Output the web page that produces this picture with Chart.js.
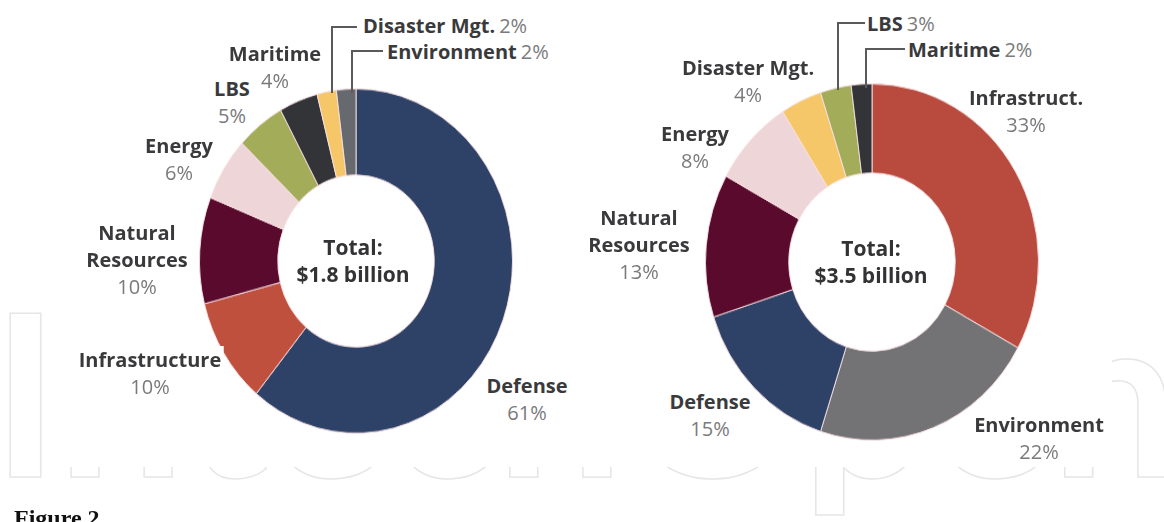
<!DOCTYPE html>
<html lang="en">
<head>
<meta charset="UTF-8">
<title>Figure 2</title>
<script src="https://cdn.jsdelivr.net/npm/chart.js@4.4.1/dist/chart.umd.min.js"></script>
<style>
    html, body { margin: 0; padding: 0; background: #fff; }
    #stage { position: relative; width: 1164px; height: 522px; overflow: hidden; font-family: "Open Sans", sans-serif; }
    #watermark { position: absolute; left: 0; top: 0; }
    /* the pasted chart picture hides most of the watermark */
    #cover { position: absolute; left: 62px; top: 0; width: 1050px; height: 467px; background: #fff; }
    .donut { position: absolute; }
    .lbl { position: absolute; font-size: 20px; line-height: 27px; white-space: nowrap; }
    .lbl b, .lbl span { background: #fff; padding: 0 2px; }
    .lbl b { color: #3a3a3c; font-weight: 700; }
    .lbl span { color: #7a7a7c; font-weight: 400; }
    .center { transform: translateX(-50%); text-align: center; }
    .total { position: absolute; transform: translateX(-50%); text-align: center; font-size: 21px; line-height: 27px; font-weight: 700; color: #333335; white-space: nowrap; }
    #leaders { position: absolute; left: 0; top: 0; }
    #fig { position: absolute; left: 14px; top: 505px; font-family: "Liberation Serif", serif; font-weight: 700; font-size: 24px; color: #111; }
</style>
</head>
<body>
<div id="stage">
    <svg id="watermark" width="1164" height="522">
        <text x="-8" y="477" font-family="Lato" font-weight="700" font-size="226" fill="#fff" stroke="#e6e6e6" stroke-width="1.5">IntechOpen</text>
    </svg>
    <div id="cover"></div>
    <div class="donut" id="leftWrap" style="left:199px; top:104px; width:314px; height:314px; transform:scaleY(1.10);">
        <canvas id="leftChart"></canvas>
    </div>
    <div class="donut" id="rightWrap" style="left:705px; top:95px; width:334px; height:334px; transform:scaleY(1.07);">
        <canvas id="rightChart"></canvas>
    </div>
    <svg id="leaders" width="1164" height="522"></svg>
    <div id="fig">Figure 2</div>
</div>

<script>
    // funding shares, left = $1.8 billion, right = $3.5 billion
    const leftLabels = ['Defense', 'Infrastructure', 'Natural Resources', 'Energy', 'LBS', 'Maritime', 'Disaster Mgt.', 'Environment'];
    const leftValues = [61, 10, 10, 6, 5, 4, 2, 2];
    const leftTotal = '$1.8 billion';

    const rightLabels = ['Infrastruct.', 'Environment', 'Defense', 'Natural Resources', 'Energy', 'Disaster Mgt.', 'LBS', 'Maritime'];
    const rightValues = [33, 22, 15, 13, 8, 4, 3, 2];
    const rightTotal = '$3.5 billion';

    const colors = {
        'Defense': '#2e4267',
        'Infrastructure': '#c0503e',
        'Infrastruct.': '#b84b3e',
        'Natural Resources': '#5a0a2c',
        'Energy': '#eed5d7',
        'LBS': '#a3ad59',
        'Maritime': '#333438',
        'Disaster Mgt.': '#f6c768',
        'Environment': '#66696e'
    };
    const rightColors = Object.assign({}, colors, { 'Environment': '#737375' });

    // label placement: x,y = centre of first line; inline = name and % on one line, left aligned
    const leftPos = {
        'Defense': { x: 527, y: 385 },
        'Infrastructure': { x: 150, y: 359 },
        'Natural Resources': { x: 137, y: 232, split: true },
        'Energy': { x: 179, y: 145 },
        'LBS': { x: 232, y: 88 },
        'Maritime': { x: 275, y: 53 },
        'Disaster Mgt.': { x: 361, y: 25, inline: true },
        'Environment': { x: 385, y: 51, inline: true }
    };
    const rightPos = {
        'Infrastruct.': { x: 1026, y: 97 },
        'Environment': { x: 1039, y: 424 },
        'Defense': { x: 710, y: 401 },
        'Natural Resources': { x: 639, y: 217, split: true },
        'Energy': { x: 695, y: 133 },
        'Disaster Mgt.': { x: 748, y: 67 },
        'LBS': { x: 865, y: 23, inline: true },
        'Maritime': { x: 906, y: 49, inline: true }
    };
    const leftLeaders = [[[357, 27], [332, 27], [332, 93]], [[383, 51], [352, 51], [352, 93]]];
    const rightLeaders = [[[866, 23], [838, 23], [838, 90]], [[905, 49], [866, 49], [866, 88]]];

    const stage = document.getElementById('stage');

    function makeDonut(id, labels, values, palette, cutout) {
        return new Chart(document.getElementById(id), {
            type: 'doughnut',
            data: {
                labels: labels,
                datasets: [{
                    data: values,
                    backgroundColor: labels.map(l => palette[l]),
                    borderColor: 'rgba(250,225,228,0.9)',
                    borderWidth: 1
                }]
            },
            options: {
                responsive: true,
                maintainAspectRatio: false,
                animation: false,
                cutout: cutout,
                layout: { padding: 0 },
                plugins: { legend: { display: false }, tooltip: { enabled: false } }
            }
        });
    }

    function addLabels(labels, values, pos) {
        labels.forEach((name, i) => {
            const p = pos[name];
            const el = document.createElement('div');
            el.className = 'lbl';
            const pct = values[i] + '%';
            if (p.inline) {
                el.innerHTML = `<b>${name}</b><span>${pct}</span>`;
            } else {
                const nm = p.split ? name.split(' ').map(w => `<b>${w}</b>`).join('<br>') : `<b>${name}</b>`;
                el.innerHTML = `${nm}<br><span>${pct}</span>`;
                el.classList.add('center');
            }
            el.style.left = p.x + 'px';
            el.style.top = (p.y - 13.5) + 'px';
            stage.appendChild(el);
        });
    }

    function addTotal(cx, cy, text) {
        const el = document.createElement('div');
        el.className = 'total';
        el.innerHTML = `Total:<br>${text}`;
        el.style.left = cx + 'px';
        el.style.top = (cy - 13.5) + 'px';
        stage.appendChild(el);
    }

    function addLeaders(list) {
        const svg = document.getElementById('leaders');
        list.forEach(pts => {
            const pl = document.createElementNS('http://www.w3.org/2000/svg', 'polyline');
            pl.setAttribute('points', pts.map(p => p.join(',')).join(' '));
            pl.setAttribute('fill', 'none');
            pl.setAttribute('stroke', '#5a5a5c');
            pl.setAttribute('stroke-width', '2');
            svg.appendChild(pl);
        });
    }

    makeDonut('leftChart', leftLabels, leftValues, colors, '50%');
    makeDonut('rightChart', rightLabels, rightValues, rightColors, '50%');

    addLabels(leftLabels, leftValues, leftPos);
    addLabels(rightLabels, rightValues, rightPos);
    addTotal(353, 247, leftTotal);
    addTotal(871, 248, rightTotal);
    addLeaders(leftLeaders);
    addLeaders(rightLeaders);
</script>
</body>
</html>
